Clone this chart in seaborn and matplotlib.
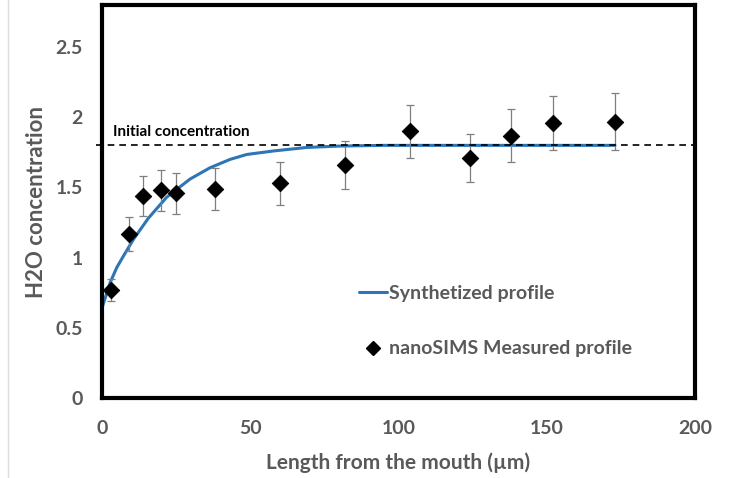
import matplotlib
matplotlib.use('Agg')
import matplotlib.pyplot as plt
import seaborn as sns
import pandas as pd
from matplotlib.lines import Line2D

# measured nanoSIMS points
length_um = [3, 9, 14, 20, 25, 38, 60, 82, 104, 124, 138, 152, 173]
h2o = [0.77, 1.17, 1.44, 1.48, 1.46, 1.49, 1.53, 1.66, 1.90, 1.71, 1.87, 1.96, 1.97]
h2o_err = [0.08, 0.12, 0.145, 0.148, 0.146, 0.15, 0.155, 0.168, 0.19, 0.17, 0.186, 0.19, 0.20]

# synthetized profile
curve_x = [0, 2.7, 5, 7.2, 10.6, 15.6, 21.8, 29.7, 36.4, 43.2, 48.8, 57.8, 69, 80, 95, 120, 150, 173]
curve_y = [0.64, 0.82, 0.93, 1.01, 1.13, 1.28, 1.43, 1.56, 1.64, 1.70, 1.735, 1.76, 1.785, 1.795, 1.80, 1.80, 1.80, 1.80]

initial_conc = 1.8

measured = pd.DataFrame({'x': length_um, 'y': h2o})
synth = pd.DataFrame({'x': curve_x, 'y': curve_y})

sns.set_style('white')
plt.rcParams['font.family'] = ['Lato', 'DejaVu Sans']
grey = '#595959'

fig = plt.figure(figsize=(7.31, 4.78), dpi=100)
ax = fig.add_axes([0.1395, 0.1674, 0.8113, 0.8221])

sns.lineplot(data=synth, x='x', y='y', ax=ax, color='#2E75B6', linewidth=2.2)
ax.errorbar(length_um, h2o, yerr=h2o_err, fmt='none', ecolor='#7f7f7f',
            elinewidth=0.9, capsize=3, capthick=0.9)
sns.scatterplot(data=measured, x='x', y='y', ax=ax, marker='D', s=70,
                color='black', edgecolor='black', zorder=5)

ax.plot([-2, 200], [initial_conc, initial_conc], linestyle=(0, (4, 3)),
        color='black', linewidth=1.2, clip_on=False)
ax.text(3.6, 1.87, 'Initial concentration', fontsize=11, fontweight='bold',
        color='black')

ax.set_xlim(0, 200)
ax.set_ylim(0, 2.8)
ax.set_xticks([0, 50, 100, 150, 200])
ax.set_yticks([0, 0.5, 1, 1.5, 2, 2.5])
ax.set_yticklabels(['0', '0.5', '1', '1.5', '2', '2.5'])
ax.tick_params(length=0, labelsize=14, labelcolor=grey, pad=14)
ax.tick_params(axis='x', pad=16)
for lab in ax.get_xticklabels() + ax.get_yticklabels():
    lab.set_fontweight('bold')

ax.set_xlabel('Length from the mouth (µm)', fontsize=15, fontweight='bold',
              color=grey, labelpad=11)
ax.set_ylabel('H2O concentration', fontsize=16, fontweight='bold',
              color=grey, labelpad=6)

for sp in ax.spines.values():
    sp.set_visible(True)
    sp.set_color('black')
    sp.set_linewidth(3)

handles = [Line2D([], [], color='#2E75B6', linewidth=2.2),
           Line2D([], [], marker='D', color='black', linestyle='none', markersize=7)]
ax.legend(handles, ['Synthetized profile', 'nanoSIMS Measured profile'],
          loc='center left', bbox_to_anchor=(0.4165, 0.196), frameon=False,
          borderpad=0, handlelength=1.45, handletextpad=0.1, labelspacing=2.0,
          prop={'size': 14, 'weight': 'bold'}, labelcolor=grey)

fig.add_artist(Line2D([0.011, 0.011], [0.0, 1.0], color='#dddddd', linewidth=1))

fig.savefig('out.png', dpi=100)
